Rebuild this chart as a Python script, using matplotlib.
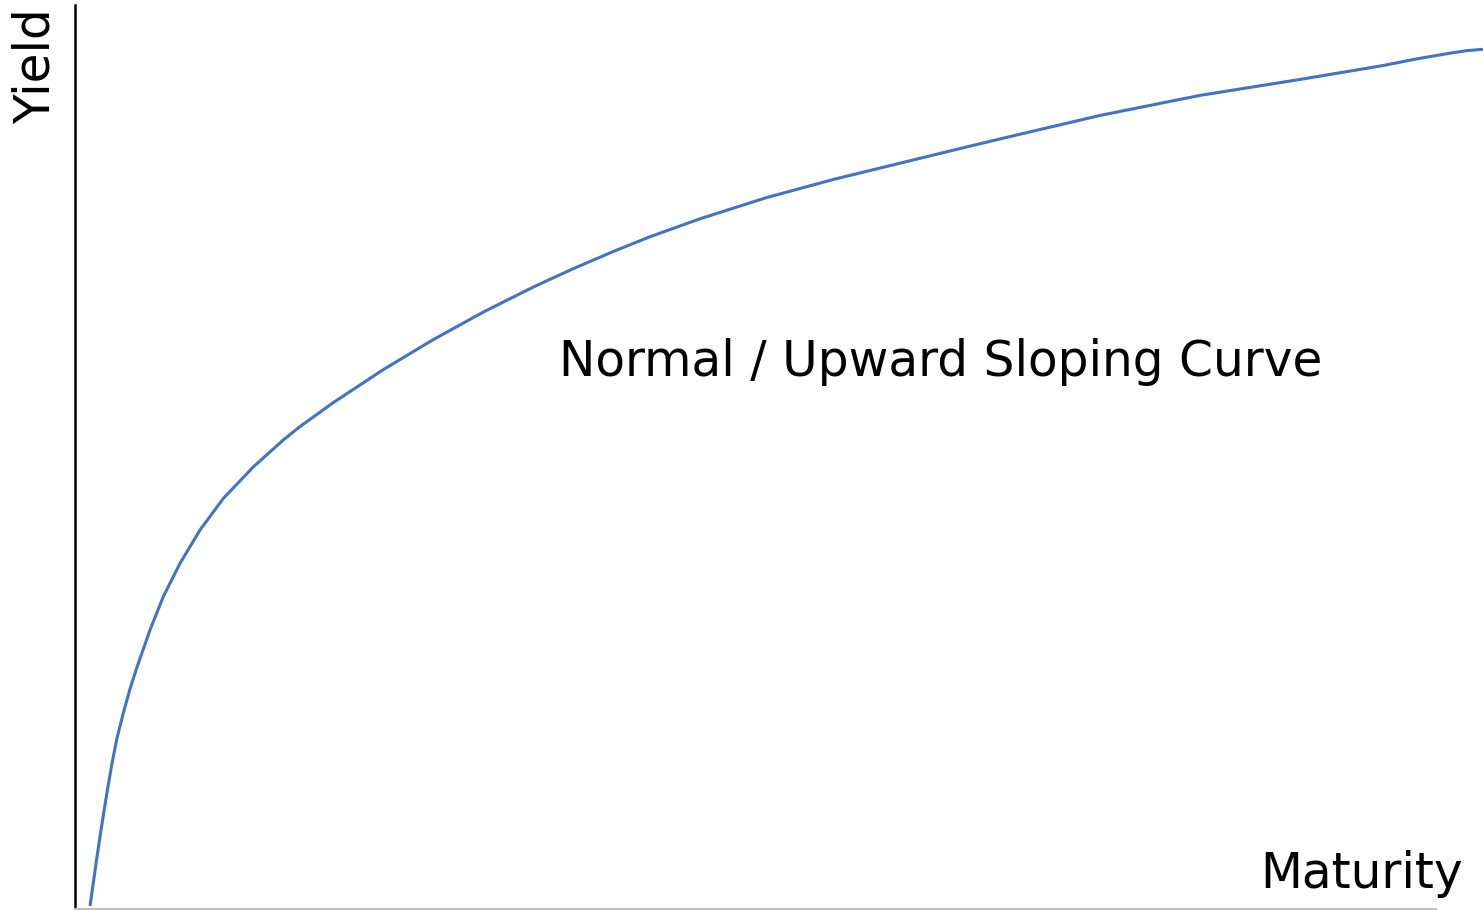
import matplotlib
matplotlib.use('Agg')
import matplotlib.pyplot as plt

# Yield curve (maturity in years, yield in %)
maturity = [0.320, 0.462, 0.569, 0.675, 0.782, 0.888, 1.029, 1.172, 1.300, 1.598,
            1.881, 2.237, 2.663, 3.160, 3.799, 4.438, 4.794, 5.504, 6.569, 7.634,
            8.700, 9.765, 10.617, 11.470, 12.252, 13.317, 14.738, 16.157, 17.578,
            18.999, 19.709, 21.840, 23.970, 26.101, 27.869, 28.579, 29.291, 29.653,
            30.000]
yields = [0.020, 0.332, 0.554, 0.760, 0.956, 1.125, 1.301, 1.460, 1.586, 1.852,
          2.073, 2.294, 2.515, 2.725, 2.934, 3.113, 3.202, 3.361, 3.580, 3.779,
          3.962, 4.128, 4.250, 4.364, 4.462, 4.581, 4.722, 4.842, 4.950,
          5.058, 5.111, 5.267, 5.400, 5.506, 5.598, 5.642, 5.680, 5.697,
          5.706]

curve_label = 'Normal / Upward Sloping Curve'
x_label = 'Maturity'
y_label = 'Yield'

plt.rcParams['font.family'] = ['DejaVu Sans']

fig = plt.figure(figsize=(14.83, 9.10), dpi=100)
ax = fig.add_axes([75 / 1483, 1 - 909 / 910, 1 - 75 / 1483, 904 / 910])

ax.plot(maturity, yields, color='#4472C4', linewidth=2.2,
        solid_joinstyle='round', solid_capstyle='butt')

ax.set_xlim(0, 30)
ax.set_ylim(0, 6)

# Only left and bottom axis lines, no ticks
ax.spines['top'].set_visible(False)
ax.spines['right'].set_visible(False)
ax.spines['left'].set_color('black')
ax.spines['left'].set_linewidth(1.8)
ax.spines['bottom'].set_color('#bfbfbf')
ax.spines['bottom'].set_linewidth(1.5)
ax.spines['bottom'].set_bounds(0, 29.0)
ax.set_xticks([])
ax.set_yticks([])
ax.patch.set_alpha(0)

fig.text(941 / 1483, 1 - 362 / 910, curve_label, fontsize=35, ha='center', va='center')
fig.text(1362 / 1483, 1 - 874 / 910, x_label, fontsize=35, ha='center', va='center')
fig.text(36 / 1483, 1 - 66 / 910, y_label, fontsize=35, ha='center', va='center', rotation=90)

fig.savefig('out.png', dpi=100)
